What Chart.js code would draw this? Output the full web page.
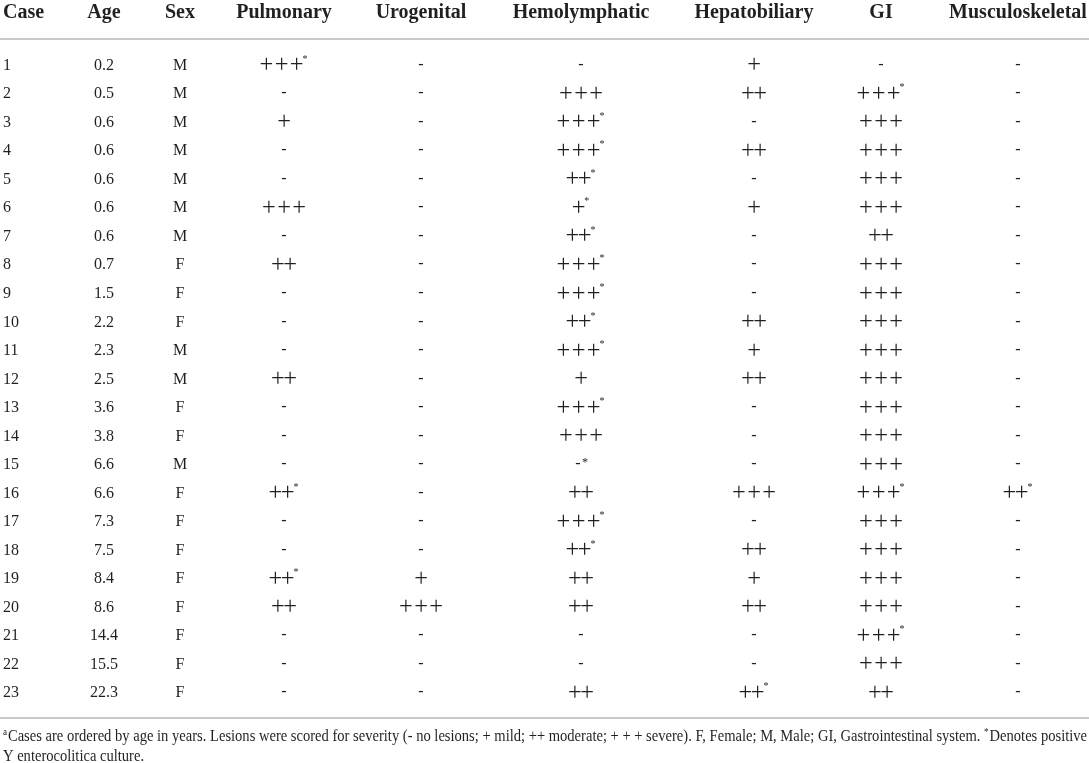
<!DOCTYPE html>
<html>
<head>
<meta charset="utf-8">
<title>Lesion severity by case</title>
<script src="https://cdn.jsdelivr.net/npm/chart.js@4.4.1/dist/chart.umd.min.js"></script>
<style>
  html, body { margin: 0; padding: 0; background: #fff; }
  #wrap { width: 1089px; height: 763px; position: relative; }
</style>
</head>
<body>
<div id="wrap"><canvas id="lesionTable"></canvas></div>
<script>
// --- table data ---
const headers = ['Case', 'Age', 'Sex', 'Pulmonary', 'Urogenital', 'Hemolymphatic', 'Hepatobiliary', 'GI', 'Musculoskeletal'];

const caseNo = ['1','2','3','4','5','6','7','8','9','10','11','12','13','14','15','16','17','18','19','20','21','22','23'];
const age = ['0.2','0.5','0.6','0.6','0.6','0.6','0.6','0.7','1.5','2.2','2.3','2.5','3.6','3.8','6.6','6.6','7.3','7.5','8.4','8.6','14.4','15.5','22.3'];
const sex = ['M','M','M','M','M','M','M','F','F','F','M','M','F','F','M','F','F','F','F','F','F','F','F'];

// "*" = positive Y. enterocolitica culture
const pulmonary = ['+++*','-','+','-','-','+++','-','++','-','-','-','++','-','-','-','++*','-','-','++*','++','-','-','-'];
const urogenital = ['-','-','-','-','-','-','-','-','-','-','-','-','-','-','-','-','-','-','+','+++','-','-','-'];
const hemolymphatic = ['-','+++','+++*','+++*','++*','+*','++*','+++*','+++*','++*','+++*','+','+++*','+++','-*','++','+++*','++*','++','++','-','-','++'];
const hepatobiliary = ['+','++','-','++','-','+','-','-','-','++','+','++','-','-','-','+++','-','++','+','++','-','-','++*'];
const gi = ['-','+++*','+++','+++','+++','+++','++','+++','+++','+++','+++','+++','+++','+++','+++','+++*','+++','+++','+++','+++','+++*','+++','++'];
const musculoskeletal = ['-','-','-','-','-','-','-','-','-','-','-','-','-','-','-','++*','-','-','-','-','-','-','-'];

const columns = [caseNo, age, sex, pulmonary, urogenital, hemolymphatic, hepatobiliary, gi, musculoskeletal];

// ^x marks a superscript character
const footnote = [
  '^aCases are ordered by age in years. Lesions were scored for severity (- no lesions; + mild; ++ moderate; + + + severe). F, Female; M, Male; GI, Gastrointestinal system. ^*Denotes positive',
  'Y enterocolitica culture.'
];

// --- layout ---
const colWidths = [40, 128, 24, 184, 90, 230, 116, 138, 136, 3];  // last one is right margin
const INK = '#231f20';
const RULE = '#c9c9c9';
const SERIF = '"Liberation Serif", "Times New Roman", serif';

const colStart = [];
colWidths.reduce((acc, w) => { colStart.push(acc); return acc + w; }, 0);
const totalWidth = colWidths.reduce((a, b) => a + b, 0);

function anchorX(i) {
    // first column is left aligned, the rest are centred
    return i === 0 ? colStart[0] + 3 : colStart[i] + colWidths[i] / 2;
}

const datasets = columns.map((vals, i) => ({
    label: headers[i],
    data: vals.map((v, r) => ({ x: anchorX(i), y: r })),
    cells: vals,
    align: i === 0 ? 'left' : 'center',
    pointRadius: 0,
    showLine: false
}));

// ink-centred text helper
function inkOffset(ctx, txt) {
    const m = ctx.measureText(txt);
    return (m.actualBoundingBoxAscent - m.actualBoundingBoxDescent) / 2;
}

let plusFontSize = null;
function calibratePlus(ctx) {
    if (plusFontSize) return plusFontSize;
    ctx.font = '100px ' + SERIF;
    const m = ctx.measureText('+');
    const w = m.actualBoundingBoxLeft + m.actualBoundingBoxRight;
    plusFontSize = 100 * 11.7 / w;
    return plusFontSize;
}

function drawPluses(ctx, x, y, n, star) {
    const pitch = n === 3 ? 15.2 : 12.3;
    const inkW = 11.7;
    const total = (n - 1) * pitch + inkW + (star ? 5 : 0);
    const left = x - total / 2;
    ctx.font = calibratePlus(ctx).toFixed(2) + 'px ' + SERIF;
    ctx.textAlign = 'center';
    ctx.textBaseline = 'alphabetic';
    const off = inkOffset(ctx, '+');
    for (let k = 0; k < n; k++) {
        ctx.fillText('+', left + inkW / 2 + k * pitch, y + off);
    }
    if (star) {
        ctx.font = '10px ' + SERIF;
        ctx.fillText('*', left + (n - 1) * pitch + inkW + 2.5, y - 7 + inkOffset(ctx, '*'));
    }
}

function drawCell(ctx, txt, x, y, align) {
    const star = txt.endsWith('*');
    const base = star ? txt.slice(0, -1) : txt;
    if (/^\++$/.test(base)) {
        drawPluses(ctx, x, y, base.length, star);
        return;
    }
    ctx.font = '16px ' + SERIF;
    ctx.textBaseline = 'alphabetic';
    if (base === '-') {
        ctx.textAlign = 'center';
        const off = inkOffset(ctx, '-');
        const sx = star ? x - 3 : x;
        ctx.fillText('-', sx, y + off + 0.5);
        if (star) {
            ctx.font = '12px ' + SERIF;
            ctx.fillText('*', sx + 7, y - 3 + inkOffset(ctx, '*'));
        }
        return;
    }
    ctx.textAlign = align;
    ctx.fillText(base, x, y + 6);
}

function drawRichLine(ctx, line, x, y, measureOnly) {
    let cx = x;
    const parts = [];
    let buf = '';
    for (let i = 0; i < line.length; i++) {
        if (line[i] === '^') {
            if (buf) parts.push({ t: buf, sup: false });
            buf = '';
            parts.push({ t: line[i + 1], sup: true });
            i++;
        } else {
            buf += line[i];
        }
    }
    if (buf) parts.push({ t: buf, sup: false });
    parts.forEach(p => {
        ctx.font = (p.sup ? '10px ' : '16px ') + SERIF;
        const w = ctx.measureText(p.t).width;
        if (!measureOnly) ctx.fillText(p.t, cx, p.sup ? y - 6 : y);
        cx += w + (p.sup ? 1 : 0);
    });
    return cx - x;
}

const tablePlugin = {
    id: 'tableText',
    afterDatasetsDraw(chart) {
        const { ctx, chartArea } = chart;
        ctx.save();
        ctx.fillStyle = INK;

        // horizontal rules
        ctx.strokeStyle = RULE;
        ctx.lineWidth = 2;
        [chartArea.top, chartArea.bottom].forEach(yy => {
            ctx.beginPath();
            ctx.moveTo(0, yy);
            ctx.lineTo(chart.width, yy);
            ctx.stroke();
        });

        chart.data.datasets.forEach((ds, i) => {
            const meta = chart.getDatasetMeta(i);
            // column header
            ctx.font = 'bold 20px ' + SERIF;
            ctx.textAlign = ds.align;
            ctx.textBaseline = 'alphabetic';
            ctx.fillText(ds.label, meta.data[0].x, chartArea.top - 21.5);
            // cells
            meta.data.forEach((pt, r) => {
                drawCell(ctx, ds.cells[r], pt.x, pt.y, ds.align);
            });
        });

        // footnote, squeezed to the table width like the original
        ctx.textAlign = 'left';
        ctx.textBaseline = 'alphabetic';
        const natural = drawRichLine(ctx, footnote[0], 0, 0, true);
        const sx = (chart.width - 5) / natural;
        ctx.translate(3, 0);
        ctx.scale(sx, 1);
        drawRichLine(ctx, footnote[0], 0, chartArea.bottom + 23, false);
        drawRichLine(ctx, footnote[1], 0, chartArea.bottom + 43, false);
        ctx.restore();
    }
};

new Chart(document.getElementById('lesionTable'), {
    type: 'scatter',
    data: { datasets: datasets },
    options: {
        responsive: true,
        maintainAspectRatio: false,
        animation: false,
        events: [],
        layout: { padding: { top: 39, bottom: 45, left: 0, right: 0 } },
        scales: {
            x: { type: 'linear', display: false, min: 0, max: totalWidth },
            y: { type: 'linear', display: false, reverse: true, min: -0.877, max: 22.947 }
        },
        plugins: {
            legend: { display: false },
            tooltip: { enabled: false }
        }
    },
    plugins: [tablePlugin]
});
</script>
</body>
</html>
